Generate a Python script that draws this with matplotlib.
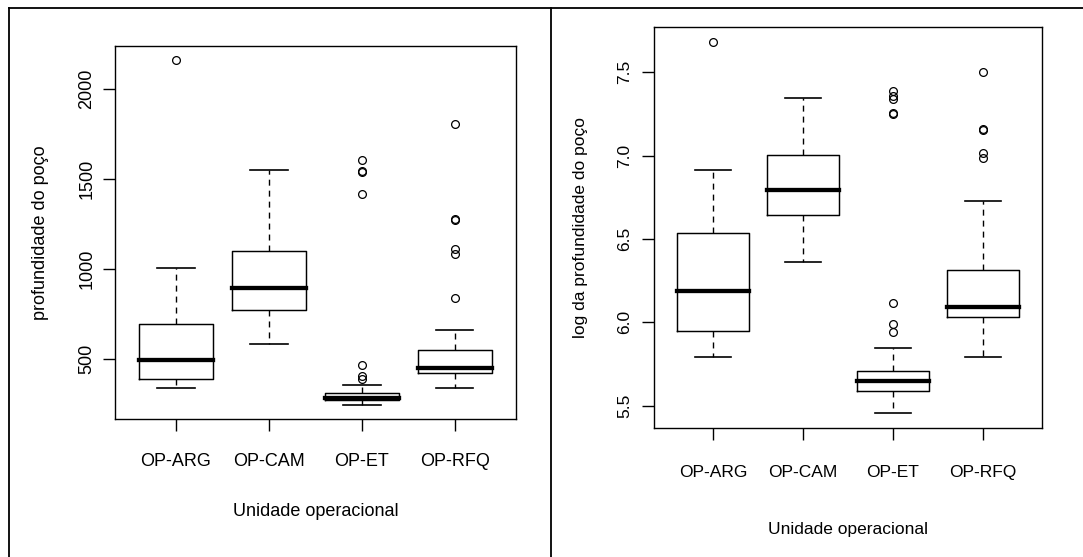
import matplotlib
matplotlib.use("Agg")
import matplotlib.pyplot as plt
from matplotlib.lines import Line2D

plt.rcParams['font.family'] = ['Liberation Sans', 'DejaVu Sans']

categories = ["OP-ARG", "OP-CAM", "OP-ET", "OP-RFQ"]

# Well depth (m): box summaries per operational unit
depth_whislo = [340, 581, 241, 340]
depth_q1 = [387, 770, 273, 423]
depth_med = [494, 891, 283, 451]
depth_q3 = [691, 1098, 311, 551]
depth_whishi = [1003, 1550, 356, 658]
depth_fliers = [
    [2162],
    [],
    [386, 405, 464, 1416, 1536, 1541, 1607],
    [836, 1084, 1112, 1270, 1276, 1805],
]

# log of well depth: box summaries per operational unit
logd_whislo = [5.790, 6.363, 5.457, 5.790]
logd_q1 = [5.951, 6.644, 5.587, 6.032]
logd_med = [6.190, 6.795, 5.651, 6.092]
logd_q3 = [6.533, 7.002, 5.709, 6.311]
logd_whishi = [6.914, 7.347, 5.849, 6.725]
logd_fliers = [
    [7.683],
    [],
    [5.941, 5.990, 6.118, 7.252, 7.258, 7.340, 7.357, 7.389],
    [6.985, 7.017, 7.155, 7.162, 7.502],
]

W, H = 1083, 557
fig = plt.figure(figsize=(W / 100, H / 100), dpi=100)


def make_stats(lo, q1, med, q3, hi, fl):
    return [dict(whislo=a, q1=b, med=c, q3=d, whishi=e, fliers=f, label=n)
            for a, b, c, d, e, f, n in zip(lo, q1, med, q3, hi, fl, categories)]


def draw_panel(rect, stats, ylim, yticks, yticklabels, ylabel, fs,
               xpad, ypad, xlab_y, ylab_x):
    ax = fig.add_axes(rect)
    ax.bxp(stats, positions=range(1, len(stats) + 1), widths=0.8,
           capwidths=0.4, showfliers=True,
           boxprops=dict(color='black', linewidth=1.05),
           medianprops=dict(color='black', linewidth=3.1,
                            solid_capstyle='projecting'),
           whiskerprops=dict(color='black', linewidth=1.0,
                             linestyle=(0, (4.3, 3.6))),
           capprops=dict(color='black', linewidth=1.2),
           flierprops=dict(marker='o', markerfacecolor='none',
                           markeredgecolor='black', markersize=5.6,
                           markeredgewidth=0.9, linestyle='none'))
    ax.set_xlim(0.34, 4.66)
    ax.set_ylim(*ylim)
    ax.set_xticks(range(1, len(categories) + 1))
    ax.set_xticklabels(categories)
    ax.set_yticks(yticks)
    ax.set_yticklabels(yticklabels)
    for s in ax.spines.values():
        s.set_linewidth(1.0)
        s.set_color('black')
    ax.tick_params(axis='x', length=8.9, width=1.0, pad=xpad, labelsize=fs)
    ax.tick_params(axis='y', length=8.9, width=1.0, pad=ypad, labelsize=fs)
    for lab in ax.get_xticklabels():
        lab.set_va('center')
    for lab in ax.get_yticklabels():
        lab.set_rotation(90)
        lab.set_ha('center')
        lab.set_va('center')
    ax.set_xlabel("Unidade operacional", fontsize=fs)
    ax.xaxis.label.set_va('center')
    ax.xaxis.set_label_coords(0.5, xlab_y)
    ax.set_ylabel(ylabel, fontsize=fs)
    ax.yaxis.label.set_va('center')
    ax.yaxis.set_label_coords(ylab_x, 0.5)
    return ax


draw_panel([114.7 / W, 1 - 419.2 / H, 401.5 / W, 373.0 / H],
           make_stats(depth_whislo, depth_q1, depth_med, depth_q3,
                      depth_whishi, depth_fliers),
           (164.5, 2237), [500, 1000, 1500, 2000],
           ["500", "1000", "1500", "2000"],
           "profundidade do poço", 13, 21.7, 11.1, -0.2475, -0.1836)

draw_panel([653.6 / W, 1 - 428.1 / H, 388.5 / W, 401.5 / H],
           make_stats(logd_whislo, logd_q1, logd_med, logd_q3,
                      logd_whishi, logd_fliers),
           (5.366, 7.773), [5.5, 6.0, 6.5, 7.0, 7.5],
           ["5.5", "6.0", "6.5", "7.0", "7.5"],
           "log da profundidade do poço", 12.5, 23.0, 11.8, -0.252, -0.1871)

# Table-style border around the two panels
x_left = 8.5 / W
x_mid = 551 / W
y_top = 1 - 7.5 / H
for xs, ys in [([x_left, 1.0], [y_top, y_top]),
               ([x_left, x_left], [0.0, y_top]),
               ([x_mid, x_mid], [0.0, y_top])]:
    fig.add_artist(Line2D(xs, ys, transform=fig.transFigure,
                          color='black', linewidth=1.3,
                          solid_capstyle='projecting'))

fig.savefig("out.png", dpi=100)
